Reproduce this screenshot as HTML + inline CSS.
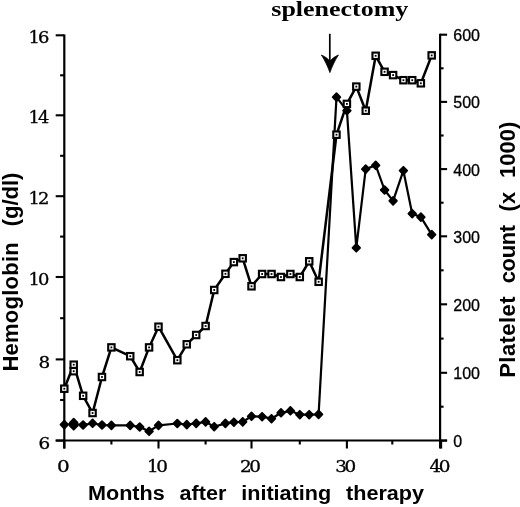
<!DOCTYPE html>
<html><head><meta charset="utf-8"><title>Hemoglobin and platelet count after initiating therapy</title>
<style>
html,body{margin:0;padding:0;background:#fff;}
body{width:520px;height:507px;overflow:hidden;}
svg{display:block;filter:blur(0.35px);}
.serif{font-family:"Liberation Serif","DejaVu Serif",serif;}
.dserif{font-family:"DejaVu Serif","Liberation Serif",serif;}
.sans{font-family:"Liberation Sans","DejaVu Sans",sans-serif;}
.ttl{font-family:"Liberation Sans","DejaVu Sans",sans-serif;font-weight:bold;font-size:22px;}
</style></head><body>
<svg width="520" height="507" viewBox="0 0 520 507">
<rect width="520" height="507" fill="#fff"/>

<g stroke="#000" stroke-width="2.2" fill="none" stroke-linecap="butt">
<path d="M64.3 34.5 V448.5"/>
<path d="M55.699999999999996 440.5 H447.1"/>
<path d="M440.1 33.7 V448.5"/>
</g>
<g stroke="#000" stroke-width="2.1" fill="none">
<path d="M55.699999999999996 440.6 H64.3"/>
<path d="M60.099999999999994 400.0 H64.3"/>
<path d="M55.699999999999996 359.4 H64.3"/>
<path d="M60.099999999999994 318.2 H64.3"/>
<path d="M55.699999999999996 277.0 H64.3"/>
<path d="M60.099999999999994 236.6 H64.3"/>
<path d="M55.699999999999996 196.2 H64.3"/>
<path d="M60.099999999999994 155.8 H64.3"/>
<path d="M55.699999999999996 115.3 H64.3"/>
<path d="M60.099999999999994 75.3 H64.3"/>
<path d="M55.699999999999996 35.3 H64.3"/>
<path d="M440.1 440.6 h7"/>
<path d="M440.1 406.7 h3.5"/>
<path d="M440.1 372.8 h7"/>
<path d="M440.1 338.6 h3.5"/>
<path d="M440.1 304.3 h7"/>
<path d="M440.1 270.3 h3.5"/>
<path d="M440.1 236.3 h7"/>
<path d="M440.1 202.7 h3.5"/>
<path d="M440.1 169.1 h7"/>
<path d="M440.1 135.5 h3.5"/>
<path d="M440.1 101.9 h7"/>
<path d="M440.1 68.3 h3.5"/>
<path d="M440.1 34.7 h7"/>
<path d="M64.3 440.5 v8"/>
<path d="M111.4 440.5 v4"/>
<path d="M158.5 440.5 v8"/>
<path d="M205.6 440.5 v4"/>
<path d="M251.5 440.5 v8"/>
<path d="M299.8 440.5 v4"/>
<path d="M346.9 440.5 v8"/>
<path d="M392.3 440.5 v4"/>
<path d="M441.1 440.5 v8"/>
</g>
<g class="dserif" font-size="16" fill="#000" stroke="#000" stroke-width="0.3" text-anchor="end">
<text transform="translate(50.3 449.0) scale(1.15 1)">6</text>
<text transform="translate(50.3 367.8) scale(1.15 1)">8</text>
<text letter-spacing="-1.7" transform="translate(47.4 284.7) scale(1.12 1)">10</text>
<text letter-spacing="-1.7" transform="translate(47.4 203.9) scale(1.12 1)">12</text>
<text letter-spacing="-1.7" transform="translate(47.4 123.0) scale(1.12 1)">14</text>
<text letter-spacing="-1.7" transform="translate(47.4 43.0) scale(1.12 1)">16</text>
</g>
<g class="dserif" font-size="16" letter-spacing="-0.8" fill="#000" stroke="#000" stroke-width="0.3" text-anchor="middle">
<text letter-spacing="0" transform="translate(63.3 472) scale(1.25 1)">0</text>
<text letter-spacing="-2.1" transform="translate(156.2 472) scale(1.15 1)">10</text>
<text letter-spacing="-2.1" transform="translate(249.2 472) scale(1.15 1)">20</text>
<text letter-spacing="-2.1" transform="translate(344.6 472) scale(1.15 1)">30</text>
<text letter-spacing="-2.1" transform="translate(438.8 472) scale(1.15 1)">40</text>
</g>
<g class="sans" font-size="16" fill="#000" stroke="#000" stroke-width="0.3" text-anchor="start">
<text x="453.3" y="447.0">0</text>
<text x="453.3" y="379.2">100</text>
<text x="453.3" y="310.7">200</text>
<text x="453.3" y="242.7">300</text>
<text x="453.3" y="175.5">400</text>
<text x="453.3" y="108.3">500</text>
<text x="453.3" y="41.1">600</text>
</g>
<text class="ttl" word-spacing="9" transform="translate(88 499.5) scale(0.982 0.92)">Months after initiating therapy</text>
<text class="ttl" word-spacing="13.5" transform="translate(17.8 371.6) rotate(-90)"><tspan letter-spacing="0.25">Hemoglobin</tspan> <tspan dx="-4">(g/dl)</tspan></text>
<text class="ttl" word-spacing="7.8" transform="translate(515 377.8) rotate(-90)"><tspan letter-spacing="0.45">Platelet</tspan> <tspan dx="-1.2" letter-spacing="-0.4">count</tspan> (x 1000)</text>
<text class="serif" font-weight="bold" font-size="21.2" x="271.3" y="15.9" textLength="137" lengthAdjust="spacingAndGlyphs">splenectomy</text>
<path d="M329.8 33.8 V63" stroke="#000" stroke-width="1.7" fill="none"/>
<path d="M329.9 72.6 C328.2 67.5 325 60.5 321.4 55 C324.6 56.4 327.6 58.4 329.9 61 C332.2 58.4 335.2 56.4 338.4 55 C334.8 60.5 331.6 67.5 329.9 72.6 Z" fill="#000" stroke="#000" stroke-width="0.8" stroke-linejoin="round"/>
<polyline points="64.3,424.6 73.7,424.0 83.1,425.0 92.6,423.3 102.0,425.0 111.4,425.4 130.2,425.4 139.7,427.0 149.1,431.3 158.5,425.4 177.3,423.5 186.8,424.6 196.2,423.4 205.6,421.9 214.2,426.7 225.4,423.4 233.9,422.2 242.7,421.9 251.5,416.3 262.1,416.7 271.5,418.7 281.0,412.8 290.4,410.8 299.8,414.7 309.2,414.7 318.6,414.4 336.5,97.1 346.9,110.7 356.3,247.8 365.7,169.1 375.7,165.3 384.6,190.0 393.1,200.9 403.4,170.7 412.2,213.7 420.9,217.1 431.7,234.6" fill="none" stroke="#000" stroke-width="2.2" stroke-linejoin="round"/>
<polyline points="64.3,388.7 73.7,364.7 83.1,395.8 92.6,413.0 102.0,377.0 111.4,347.4 130.2,356.2 139.7,372.0 149.1,347.4 158.5,326.7 177.3,360.2 186.8,344.3 196.2,335.0 205.6,326.0 214.2,290.0 225.4,273.8 233.9,262.1 242.7,258.3 251.5,286.3 262.1,274.0 271.5,274.0 281.0,277.0 290.4,274.0 299.8,277.0 309.2,261.3 318.6,281.8 336.5,134.7 346.9,103.9 356.3,86.6 365.7,110.7 375.7,55.8 384.6,71.8 393.1,75.1 403.4,80.2 412.2,80.2 420.9,83.3 431.7,55.4" fill="none" stroke="#000" stroke-width="2.5" stroke-linejoin="round"/>
<path d="M73.7 418.7 L77.5 422.6 L73.7 426.5 L69.9 422.6 Z" fill="#000" stroke="#000" stroke-width="1.8" stroke-linejoin="round"/>
<path d="M73.7 421.9 L77.5 425.8 L73.7 429.7 L69.9 425.8 Z" fill="#000" stroke="#000" stroke-width="1.8" stroke-linejoin="round"/>
<path d="M64.3 420.7 L68.1 424.6 L64.3 428.5 L60.5 424.6 Z" fill="#000" stroke="#000" stroke-width="1.8" stroke-linejoin="round"/>
<path d="M73.7 420.1 L77.5 424.0 L73.7 427.9 L69.9 424.0 Z" fill="#000" stroke="#000" stroke-width="1.8" stroke-linejoin="round"/>
<path d="M83.1 421.1 L86.9 425.0 L83.1 428.9 L79.3 425.0 Z" fill="#000" stroke="#000" stroke-width="1.8" stroke-linejoin="round"/>
<path d="M92.6 419.4 L96.4 423.3 L92.6 427.2 L88.8 423.3 Z" fill="#000" stroke="#000" stroke-width="1.8" stroke-linejoin="round"/>
<path d="M102.0 421.1 L105.8 425.0 L102.0 428.9 L98.2 425.0 Z" fill="#000" stroke="#000" stroke-width="1.8" stroke-linejoin="round"/>
<path d="M111.4 421.5 L115.2 425.4 L111.4 429.3 L107.6 425.4 Z" fill="#000" stroke="#000" stroke-width="1.8" stroke-linejoin="round"/>
<path d="M130.2 421.5 L134.0 425.4 L130.2 429.3 L126.4 425.4 Z" fill="#000" stroke="#000" stroke-width="1.8" stroke-linejoin="round"/>
<path d="M139.7 423.1 L143.5 427.0 L139.7 430.9 L135.9 427.0 Z" fill="#000" stroke="#000" stroke-width="1.8" stroke-linejoin="round"/>
<path d="M149.1 427.4 L152.9 431.3 L149.1 435.2 L145.3 431.3 Z" fill="#000" stroke="#000" stroke-width="1.8" stroke-linejoin="round"/>
<path d="M158.5 421.5 L162.3 425.4 L158.5 429.3 L154.7 425.4 Z" fill="#000" stroke="#000" stroke-width="1.8" stroke-linejoin="round"/>
<path d="M177.3 419.6 L181.1 423.5 L177.3 427.4 L173.5 423.5 Z" fill="#000" stroke="#000" stroke-width="1.8" stroke-linejoin="round"/>
<path d="M186.8 420.7 L190.6 424.6 L186.8 428.5 L183.0 424.6 Z" fill="#000" stroke="#000" stroke-width="1.8" stroke-linejoin="round"/>
<path d="M196.2 419.5 L200.0 423.4 L196.2 427.3 L192.4 423.4 Z" fill="#000" stroke="#000" stroke-width="1.8" stroke-linejoin="round"/>
<path d="M205.6 418.0 L209.4 421.9 L205.6 425.8 L201.8 421.9 Z" fill="#000" stroke="#000" stroke-width="1.8" stroke-linejoin="round"/>
<path d="M214.2 422.8 L218.0 426.7 L214.2 430.6 L210.4 426.7 Z" fill="#000" stroke="#000" stroke-width="1.8" stroke-linejoin="round"/>
<path d="M225.4 419.5 L229.2 423.4 L225.4 427.3 L221.6 423.4 Z" fill="#000" stroke="#000" stroke-width="1.8" stroke-linejoin="round"/>
<path d="M233.9 418.3 L237.7 422.2 L233.9 426.1 L230.1 422.2 Z" fill="#000" stroke="#000" stroke-width="1.8" stroke-linejoin="round"/>
<path d="M242.7 418.0 L246.5 421.9 L242.7 425.8 L238.9 421.9 Z" fill="#000" stroke="#000" stroke-width="1.8" stroke-linejoin="round"/>
<path d="M251.5 412.4 L255.3 416.3 L251.5 420.2 L247.7 416.3 Z" fill="#000" stroke="#000" stroke-width="1.8" stroke-linejoin="round"/>
<path d="M262.1 412.8 L265.9 416.7 L262.1 420.6 L258.3 416.7 Z" fill="#000" stroke="#000" stroke-width="1.8" stroke-linejoin="round"/>
<path d="M271.5 414.8 L275.3 418.7 L271.5 422.6 L267.7 418.7 Z" fill="#000" stroke="#000" stroke-width="1.8" stroke-linejoin="round"/>
<path d="M281.0 408.9 L284.8 412.8 L281.0 416.7 L277.2 412.8 Z" fill="#000" stroke="#000" stroke-width="1.8" stroke-linejoin="round"/>
<path d="M290.4 406.9 L294.2 410.8 L290.4 414.7 L286.6 410.8 Z" fill="#000" stroke="#000" stroke-width="1.8" stroke-linejoin="round"/>
<path d="M299.8 410.8 L303.6 414.7 L299.8 418.6 L296.0 414.7 Z" fill="#000" stroke="#000" stroke-width="1.8" stroke-linejoin="round"/>
<path d="M309.2 410.8 L313.0 414.7 L309.2 418.6 L305.4 414.7 Z" fill="#000" stroke="#000" stroke-width="1.8" stroke-linejoin="round"/>
<path d="M318.6 410.5 L322.4 414.4 L318.6 418.3 L314.8 414.4 Z" fill="#000" stroke="#000" stroke-width="1.8" stroke-linejoin="round"/>
<path d="M336.5 93.2 L340.3 97.1 L336.5 101.0 L332.7 97.1 Z" fill="#000" stroke="#000" stroke-width="1.8" stroke-linejoin="round"/>
<path d="M346.9 106.8 L350.7 110.7 L346.9 114.6 L343.1 110.7 Z" fill="#000" stroke="#000" stroke-width="1.8" stroke-linejoin="round"/>
<path d="M356.3 243.9 L360.1 247.8 L356.3 251.7 L352.5 247.8 Z" fill="#000" stroke="#000" stroke-width="1.8" stroke-linejoin="round"/>
<path d="M365.7 165.2 L369.5 169.1 L365.7 173.0 L361.9 169.1 Z" fill="#000" stroke="#000" stroke-width="1.8" stroke-linejoin="round"/>
<path d="M375.7 161.4 L379.5 165.3 L375.7 169.2 L371.9 165.3 Z" fill="#000" stroke="#000" stroke-width="1.8" stroke-linejoin="round"/>
<path d="M384.6 186.1 L388.4 190.0 L384.6 193.9 L380.8 190.0 Z" fill="#000" stroke="#000" stroke-width="1.8" stroke-linejoin="round"/>
<path d="M393.1 197.0 L396.9 200.9 L393.1 204.8 L389.3 200.9 Z" fill="#000" stroke="#000" stroke-width="1.8" stroke-linejoin="round"/>
<path d="M403.4 166.8 L407.2 170.7 L403.4 174.6 L399.6 170.7 Z" fill="#000" stroke="#000" stroke-width="1.8" stroke-linejoin="round"/>
<path d="M412.2 209.8 L416.0 213.7 L412.2 217.6 L408.4 213.7 Z" fill="#000" stroke="#000" stroke-width="1.8" stroke-linejoin="round"/>
<path d="M420.9 213.2 L424.7 217.1 L420.9 221.0 L417.1 217.1 Z" fill="#000" stroke="#000" stroke-width="1.8" stroke-linejoin="round"/>
<path d="M431.7 230.7 L435.5 234.6 L431.7 238.5 L427.9 234.6 Z" fill="#000" stroke="#000" stroke-width="1.8" stroke-linejoin="round"/>
<rect x="70.52" y="368.00" width="6.4" height="6.4" fill="#fff" stroke="#000" stroke-width="2.1"/><rect x="72.82" y="370.30" width="1.8" height="1.8" fill="#000"/>
<rect x="61.10" y="385.50" width="6.4" height="6.4" fill="#fff" stroke="#000" stroke-width="2.1"/><rect x="63.40" y="387.80" width="1.8" height="1.8" fill="#000"/>
<rect x="70.52" y="361.50" width="6.4" height="6.4" fill="#fff" stroke="#000" stroke-width="2.1"/><rect x="72.82" y="363.80" width="1.8" height="1.8" fill="#000"/>
<rect x="79.94" y="392.60" width="6.4" height="6.4" fill="#fff" stroke="#000" stroke-width="2.1"/><rect x="82.24" y="394.90" width="1.8" height="1.8" fill="#000"/>
<rect x="89.36" y="409.80" width="6.4" height="6.4" fill="#fff" stroke="#000" stroke-width="2.1"/><rect x="91.66" y="412.10" width="1.8" height="1.8" fill="#000"/>
<rect x="98.78" y="373.80" width="6.4" height="6.4" fill="#fff" stroke="#000" stroke-width="2.1"/><rect x="101.08" y="376.10" width="1.8" height="1.8" fill="#000"/>
<rect x="108.20" y="344.20" width="6.4" height="6.4" fill="#fff" stroke="#000" stroke-width="2.1"/><rect x="110.50" y="346.50" width="1.8" height="1.8" fill="#000"/>
<rect x="127.04" y="353.00" width="6.4" height="6.4" fill="#fff" stroke="#000" stroke-width="2.1"/><rect x="129.34" y="355.30" width="1.8" height="1.8" fill="#000"/>
<rect x="136.46" y="368.80" width="6.4" height="6.4" fill="#fff" stroke="#000" stroke-width="2.1"/><rect x="138.76" y="371.10" width="1.8" height="1.8" fill="#000"/>
<rect x="145.88" y="344.20" width="6.4" height="6.4" fill="#fff" stroke="#000" stroke-width="2.1"/><rect x="148.18" y="346.50" width="1.8" height="1.8" fill="#000"/>
<rect x="155.30" y="323.50" width="6.4" height="6.4" fill="#fff" stroke="#000" stroke-width="2.1"/><rect x="157.60" y="325.80" width="1.8" height="1.8" fill="#000"/>
<rect x="174.14" y="357.00" width="6.4" height="6.4" fill="#fff" stroke="#000" stroke-width="2.1"/><rect x="176.44" y="359.30" width="1.8" height="1.8" fill="#000"/>
<rect x="183.56" y="341.10" width="6.4" height="6.4" fill="#fff" stroke="#000" stroke-width="2.1"/><rect x="185.86" y="343.40" width="1.8" height="1.8" fill="#000"/>
<rect x="192.98" y="331.80" width="6.4" height="6.4" fill="#fff" stroke="#000" stroke-width="2.1"/><rect x="195.28" y="334.10" width="1.8" height="1.8" fill="#000"/>
<rect x="202.40" y="322.80" width="6.4" height="6.4" fill="#fff" stroke="#000" stroke-width="2.1"/><rect x="204.70" y="325.10" width="1.8" height="1.8" fill="#000"/>
<rect x="211.02" y="286.80" width="6.4" height="6.4" fill="#fff" stroke="#000" stroke-width="2.1"/><rect x="213.32" y="289.10" width="1.8" height="1.8" fill="#000"/>
<rect x="222.24" y="270.60" width="6.4" height="6.4" fill="#fff" stroke="#000" stroke-width="2.1"/><rect x="224.54" y="272.90" width="1.8" height="1.8" fill="#000"/>
<rect x="230.66" y="258.90" width="6.4" height="6.4" fill="#fff" stroke="#000" stroke-width="2.1"/><rect x="232.96" y="261.20" width="1.8" height="1.8" fill="#000"/>
<rect x="239.48" y="255.10" width="6.4" height="6.4" fill="#fff" stroke="#000" stroke-width="2.1"/><rect x="241.78" y="257.40" width="1.8" height="1.8" fill="#000"/>
<rect x="248.30" y="283.10" width="6.4" height="6.4" fill="#fff" stroke="#000" stroke-width="2.1"/><rect x="250.60" y="285.40" width="1.8" height="1.8" fill="#000"/>
<rect x="258.92" y="270.80" width="6.4" height="6.4" fill="#fff" stroke="#000" stroke-width="2.1"/><rect x="261.22" y="273.10" width="1.8" height="1.8" fill="#000"/>
<rect x="268.34" y="270.80" width="6.4" height="6.4" fill="#fff" stroke="#000" stroke-width="2.1"/><rect x="270.64" y="273.10" width="1.8" height="1.8" fill="#000"/>
<rect x="277.76" y="273.80" width="6.4" height="6.4" fill="#fff" stroke="#000" stroke-width="2.1"/><rect x="280.06" y="276.10" width="1.8" height="1.8" fill="#000"/>
<rect x="287.18" y="270.80" width="6.4" height="6.4" fill="#fff" stroke="#000" stroke-width="2.1"/><rect x="289.48" y="273.10" width="1.8" height="1.8" fill="#000"/>
<rect x="296.60" y="273.80" width="6.4" height="6.4" fill="#fff" stroke="#000" stroke-width="2.1"/><rect x="298.90" y="276.10" width="1.8" height="1.8" fill="#000"/>
<rect x="306.02" y="258.10" width="6.4" height="6.4" fill="#fff" stroke="#000" stroke-width="2.1"/><rect x="308.32" y="260.40" width="1.8" height="1.8" fill="#000"/>
<rect x="315.44" y="278.60" width="6.4" height="6.4" fill="#fff" stroke="#000" stroke-width="2.1"/><rect x="317.74" y="280.90" width="1.8" height="1.8" fill="#000"/>
<rect x="333.28" y="131.50" width="6.4" height="6.4" fill="#fff" stroke="#000" stroke-width="2.1"/><rect x="335.58" y="133.80" width="1.8" height="1.8" fill="#000"/>
<rect x="343.70" y="100.70" width="6.4" height="6.4" fill="#fff" stroke="#000" stroke-width="2.1"/><rect x="346.00" y="103.00" width="1.8" height="1.8" fill="#000"/>
<rect x="353.12" y="83.40" width="6.4" height="6.4" fill="#fff" stroke="#000" stroke-width="2.1"/><rect x="355.42" y="85.70" width="1.8" height="1.8" fill="#000"/>
<rect x="362.54" y="107.50" width="6.4" height="6.4" fill="#fff" stroke="#000" stroke-width="2.1"/><rect x="364.84" y="109.80" width="1.8" height="1.8" fill="#000"/>
<rect x="372.46" y="52.60" width="6.4" height="6.4" fill="#fff" stroke="#000" stroke-width="2.1"/><rect x="374.76" y="54.90" width="1.8" height="1.8" fill="#000"/>
<rect x="381.38" y="68.60" width="6.4" height="6.4" fill="#fff" stroke="#000" stroke-width="2.1"/><rect x="383.68" y="70.90" width="1.8" height="1.8" fill="#000"/>
<rect x="389.90" y="71.90" width="6.4" height="6.4" fill="#fff" stroke="#000" stroke-width="2.1"/><rect x="392.20" y="74.20" width="1.8" height="1.8" fill="#000"/>
<rect x="400.22" y="77.00" width="6.4" height="6.4" fill="#fff" stroke="#000" stroke-width="2.1"/><rect x="402.52" y="79.30" width="1.8" height="1.8" fill="#000"/>
<rect x="409.04" y="77.00" width="6.4" height="6.4" fill="#fff" stroke="#000" stroke-width="2.1"/><rect x="411.34" y="79.30" width="1.8" height="1.8" fill="#000"/>
<rect x="417.66" y="80.10" width="6.4" height="6.4" fill="#fff" stroke="#000" stroke-width="2.1"/><rect x="419.96" y="82.40" width="1.8" height="1.8" fill="#000"/>
<rect x="428.48" y="52.20" width="6.4" height="6.4" fill="#fff" stroke="#000" stroke-width="2.1"/><rect x="430.78" y="54.50" width="1.8" height="1.8" fill="#000"/>
</svg></body></html>
